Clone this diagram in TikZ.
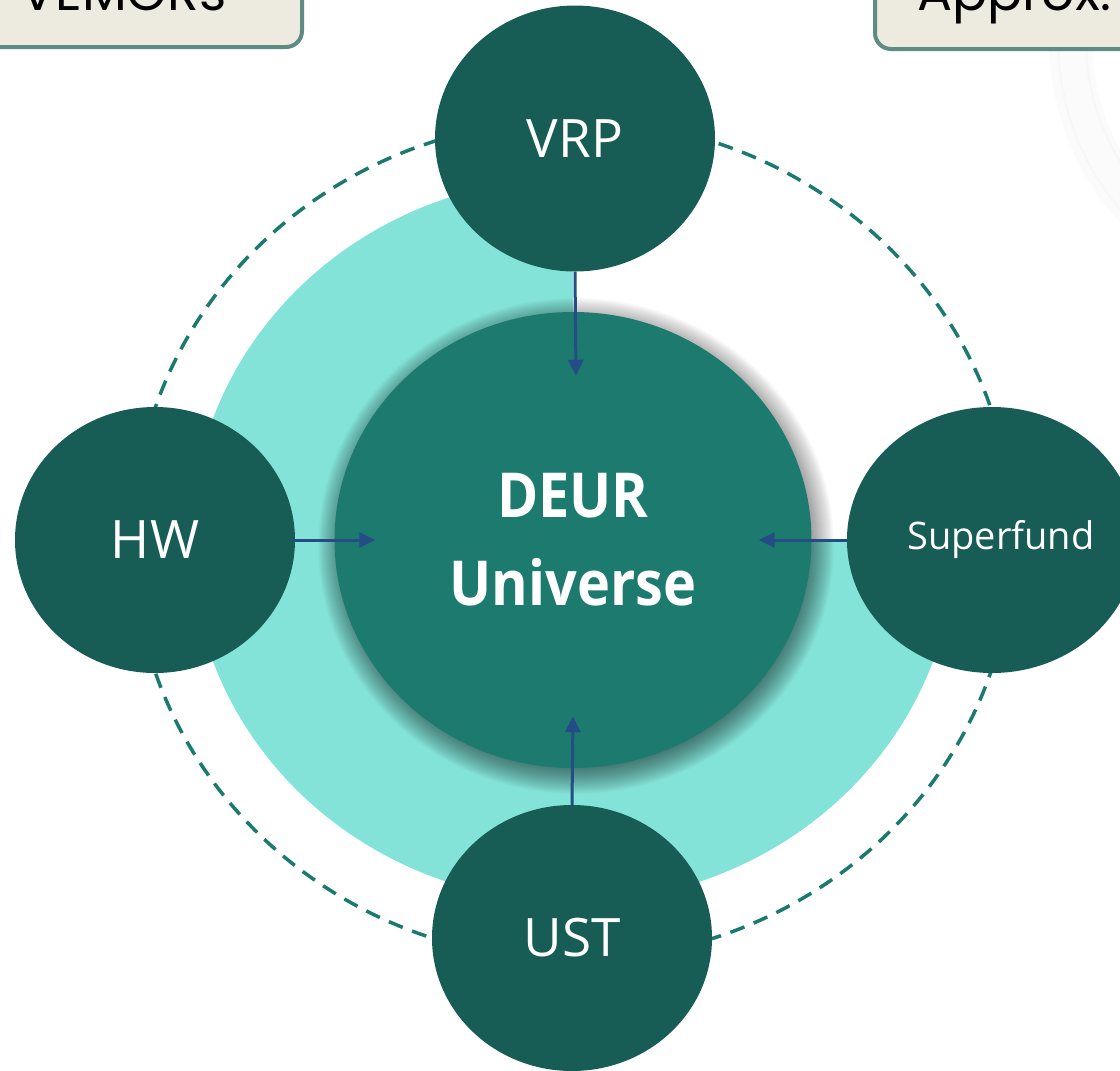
\documentclass[tikz,border=0pt]{standalone}
\usepackage{fontspec}
\setmainfont{Open Sans}
\newfontfamily\deurfont{Open Sans}[FakeStretch=0.9]
\newfontfamily\boxfont{Poppins}
\usetikzlibrary{shapes.geometric,arrows.meta,calc}
\definecolor{satcol}{HTML}{175C55}
\definecolor{cencol}{HTML}{1C7A6F}
\definecolor{turq}{HTML}{84E3D8}
\definecolor{dashcol}{HTML}{1A7A6E}
\definecolor{arrcol}{HTML}{234D84}
\definecolor{boxfill}{HTML}{EDEAE0}
\definecolor{boxline}{HTML}{5E8C84}
\definecolor{wmark}{HTML}{FBFBFB}
\tikzset{
  sat/.style={ellipse, fill=satcol, draw=none, minimum width=280pt, minimum height=266pt, inner sep=0pt, text=white, font=\fontsize{53}{60}\selectfont},
  center/.style={ellipse, fill=cencol, draw=none, minimum width=477pt, minimum height=456pt, inner sep=0pt, text=white, align=center,
     font=\deurfont\bfseries\fontsize{62}{88}\selectfont},
  arr/.style={draw=arrcol, line width=3pt, -{Triangle[width=15pt,length=16pt]}},
  topbox/.style={draw=boxline, fill=boxfill, line width=4pt, rounded corners=16pt},
  boxtext/.style={font=\boxfont\fontsize{52}{60}\selectfont, text=black, inner sep=0pt, anchor=base west}
}
\begin{document}
\begin{tikzpicture}[x=1pt,y=-1pt]
\useasboundingbox (0,0) rectangle (1120,1071);
\clip (0,0) rectangle (1120,1071);
% faint watermark ring
\fill[wmark, even odd rule] (1320,40) circle[radius=271] (1320,40) circle[radius=228];
\draw[gray!6, line width=2pt] (1320,40) circle[radius=262];
\draw[gray!6, line width=2pt] (1320,40) circle[radius=234];
% top boxes
\draw[topbox] (-30,-80) rectangle (302,47);
\node[boxtext] (vemors) at (20,10) {VEMORs};
\draw[topbox] (875,-80) rectangle (1160,49);
\node[boxtext] (approx) at (917,10) {Approx.};
% turquoise three-quarter disc
\begin{scope}
\clip (100,100) -- (573,100) -- (573,540) -- (1050,540) -- (1050,1000) -- (100,1000) -- cycle;
\fill[turq] (573,540) ellipse [x radius=382, y radius=362];
\end{scope}
% dashed ring
\draw[dashcol, line width=3.5pt, dash pattern=on 15pt off 10pt] (573,540) ellipse [x radius=440, y radius=420];
% soft shadow of the central disc
\foreach \i in {0,...,29}{
  \fill[black, opacity=0.021] (576,546) ellipse [x radius=258-\i, y radius=248-\i];
}
% central node
\node[center] (deur) at (573,540) {DEUR\\Universe};
% satellites
\node[sat] (vrp) at (575,138.5) {VRP};
\node[sat] (hw) at (155,540) {HW};
\node[sat, font=\fontsize{38}{44}\selectfont] (sf) at (992,540) {\hspace*{18pt}Superfund};
\node[sat] (ust) at (572,938) {UST};
% arrows
\draw[arr] (vrp.south) -- ($(deur.north)+(3,64)$);
\draw[arr] (hw.east) -- ($(deur.west)+(41,0)$);
\draw[arr] (sf.west) -- ($(deur.east)+(-53,0)$);
\draw[arr] (ust.north) -- ($(deur.south)+(0,-52)$);
\end{tikzpicture}
\end{document}
